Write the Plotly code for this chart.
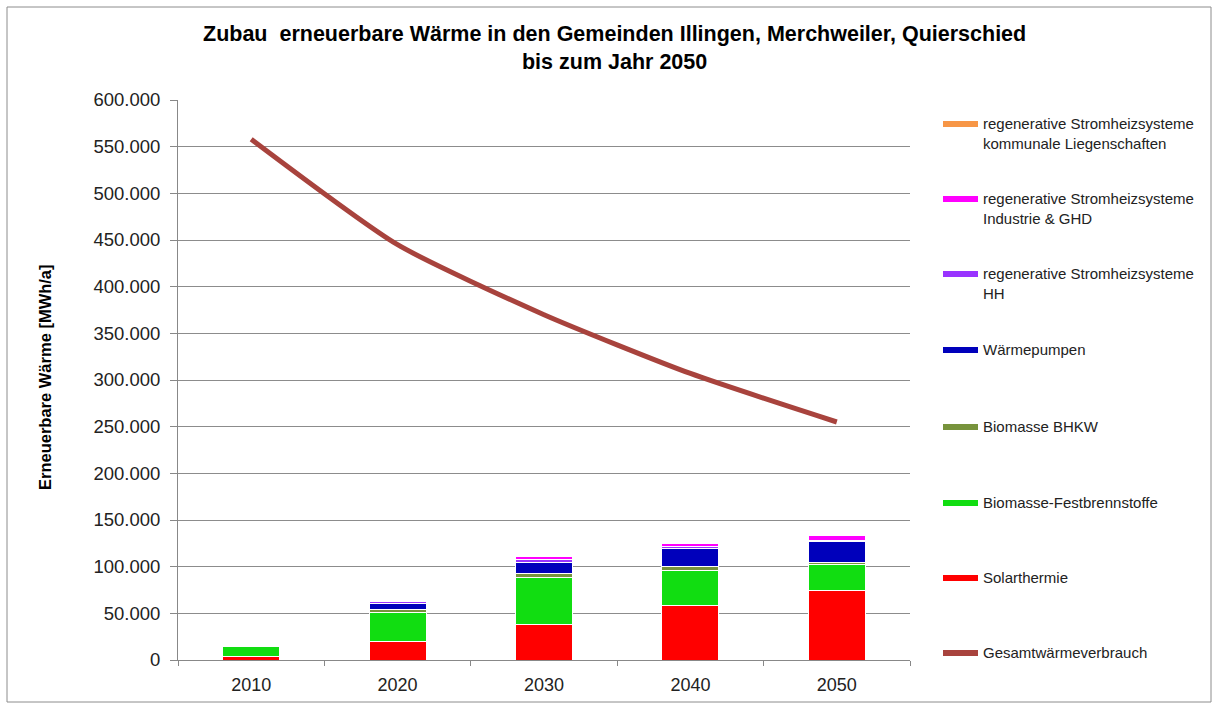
import plotly.graph_objects as go

# Data (MWh/a)
years = ["2010", "2020", "2030", "2040", "2050"]
solarthermie = [3500, 20000, 38000, 58000, 75000]
biomasse_fest = [11500, 31000, 50000, 37500, 27000]
biomasse_bhkw = [0, 3000, 5000, 4500, 2500]
waermepumpen = [0, 7000, 12000, 19500, 22500]
strom_hh = [0, 2000, 3000, 2500, 1500]
strom_industrie = [0, 500, 3000, 2500, 5000]
strom_kommunal = [0, 0, 0, 0, 0]
gesamtverbrauch = [558000, 445000, 370000, 307000, 255000]

bar_series = [
    ("Solarthermie", solarthermie, "#FF0000"),
    ("Biomasse-Festbrennstoffe", biomasse_fest, "#11DD11"),
    ("Biomasse BHKW", biomasse_bhkw, "#77933C"),
    ("Wärmepumpen", waermepumpen, "#0000BB"),
    ("regenerative Stromheizsysteme<br>HH", strom_hh, "#9933FF"),
    ("regenerative Stromheizsysteme<br>Industrie & GHD", strom_industrie, "#FF00FF"),
    ("regenerative Stromheizsysteme<br>kommunale Liegenschaften", strom_kommunal, "#F79646"),
]
line_name = "Gesamtwärmeverbrauch"
line_color = "#A8433D"

W, H = 1218, 704
L, R, T, B = 178, 910, 100, 660  # plot area in pixels


def px(x):
    return (x - L) / (R - L)


def py(y):
    return (B - y) / (B - T)


fig = go.Figure()
for name, vals, col in bar_series:
    fig.add_trace(go.Bar(
        x=years, y=vals, name=name, marker_color=col,
        marker_line=dict(color="white", width=1), width=0.39,
        showlegend=False,
    ))
fig.add_trace(go.Scatter(
    x=years, y=gesamtverbrauch, name=line_name, mode="lines",
    line=dict(color=line_color, width=5, shape="spline", smoothing=0.6),
    showlegend=False,
))

font = "Liberation Sans, Arial, sans-serif"

# Custom legend on the right (top entry = last stacked series)
legend_items = [(n, c) for n, _, c in reversed(bar_series)] + [(line_name, line_color)]
legend_y = [124, 199, 274, 350, 427, 503, 578, 653]
shapes = []
annotations = []
for (name, col), yy in zip(legend_items, legend_y):
    shapes.append(dict(type="line", xref="paper", yref="paper",
                       x0=px(943), x1=px(978), y0=py(yy), y1=py(yy),
                       line=dict(color=col, width=6)))
    annotations.append(dict(xref="paper", yref="paper", x=px(981), y=py(yy - 11),
                            xanchor="left", yanchor="top", align="left",
                            text=name, showarrow=False,
                            font=dict(family=font, size=15, color="#222")))

# Chart title
annotations.append(dict(
    xref="paper", yref="paper", x=px(614), y=py(20),
    xanchor="center", yanchor="top", align="center", showarrow=False,
    text="<b>Zubau  erneuerbare Wärme in den Gemeinden Illingen, Merchweiler, Quierschied<br>bis zum Jahr 2050</b>",
    font=dict(family=font, size=21.5, color="#000"),
))

# Y axis title
annotations.append(dict(xref="paper", yref="paper", x=px(45), y=py(377),
                        xanchor="center", yanchor="middle", textangle=-90,
                        text="<b>Erneuerbare Wärme [MWh/a]</b>", showarrow=False,
                        font=dict(family=font, size=16.5, color="#000")))

# Outer chart frame
shapes.append(dict(type="rect", xref="paper", yref="paper",
                   x0=px(7), x1=px(1211), y0=py(7), y1=py(702),
                   line=dict(color="#8C8C8C", width=1), layer="below"))

fig.update_layout(
    width=W, height=H,
    margin=dict(l=L, r=W - R, t=T, b=H - B, autoexpand=False),
    barmode="stack",
    paper_bgcolor="white", plot_bgcolor="white",
    separators=",.",
    xaxis=dict(
        type="category", tickson="boundaries", ticks="outside", ticklen=5,
        tickcolor="#888", showline=True, linecolor="#888", linewidth=1,
        showgrid=False, ticklabelstandoff=8, automargin=False,
        tickfont=dict(family=font, size=18, color="#222"),
    ),
    yaxis=dict(
        range=[0, 600000], dtick=50000, tickformat=",.0f",
        ticks="outside", ticklen=7, tickcolor="#888",
        showline=True, linecolor="#888", linewidth=1,
        gridcolor="#8C8C8C", gridwidth=1, zeroline=False,
        ticklabelstandoff=6, automargin=False,
        tickfont=dict(family=font, size=18.5, color="#222"),
    ),
    shapes=shapes,
    annotations=annotations,
)

fig.write_html("out.html")
